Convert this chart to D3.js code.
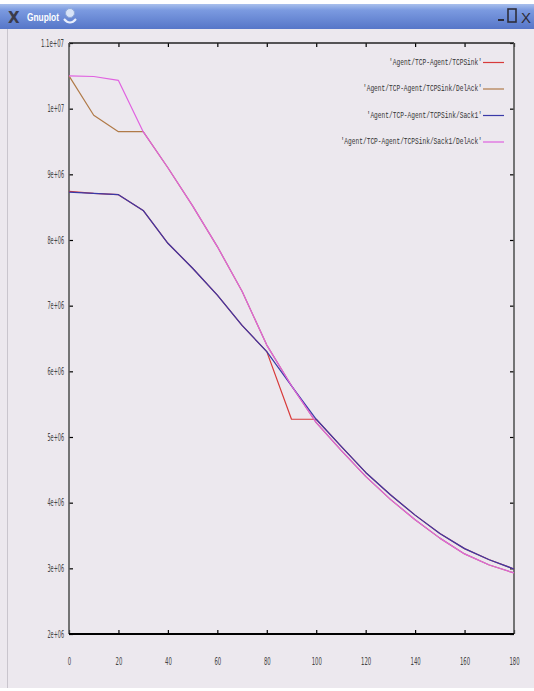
<!DOCTYPE html>
<html>
<head>
<meta charset="utf-8">
<script src="https://cdn.jsdelivr.net/npm/d3@7/dist/d3.min.js"></script>
<style>
  html, body { margin: 0; padding: 0; background: #ffffff; }
  svg { display: block; }
</style>
</head>
<body>
<svg id="win" width="534" height="691"></svg>
<script>
// Simulation time (s) at which each sample was taken
const times = [0, 10, 20, 30, 40, 50, 60, 70, 80, 90, 100, 110, 120, 130, 140, 150, 160, 170, 180];

// Throughput for each sink type
const tcpSink      = [8.74e6, 8.71e6, 8.69e6, 8.45e6, 7.95e6, 7.57e6, 7.16e6, 6.70e6, 6.30e6, 5.27e6, 5.27e6, 4.86e6, 4.46e6, 4.12e6, 3.81e6, 3.53e6, 3.30e6, 3.13e6, 2.99e6];
const tcpDelAck    = [1.05e7, 9.90e6, 9.65e6, 9.65e6, 9.10e6, 8.52e6, 7.90e6, 7.22e6, 6.40e6, 5.78e6, 5.22e6, 4.80e6, 4.40e6, 4.05e6, 3.74e6, 3.46e6, 3.22e6, 3.05e6, 2.93e6];
const sack1        = [8.73e6, 8.71e6, 8.69e6, 8.45e6, 7.95e6, 7.57e6, 7.16e6, 6.70e6, 6.30e6, 5.78e6, 5.27e6, 4.86e6, 4.46e6, 4.12e6, 3.81e6, 3.53e6, 3.30e6, 3.13e6, 2.99e6];
const sack1DelAck  = [1.05e7, 1.049e7, 1.043e7, 9.65e6, 9.10e6, 8.52e6, 7.90e6, 7.22e6, 6.40e6, 5.78e6, 5.22e6, 4.80e6, 4.40e6, 4.05e6, 3.74e6, 3.46e6, 3.22e6, 3.05e6, 2.93e6];

const seriesNames  = ["'Agent/TCP-Agent/TCPSink'", "'Agent/TCP-Agent/TCPSink/DelAck'", "'Agent/TCP-Agent/TCPSink/Sack1'", "'Agent/TCP-Agent/TCPSink/Sack1/DelAck'"];
const seriesColors = ["#d83a3a", "#b07a48", "#3a3aa8", "#e062e0"];

const xTicks      = [0, 20, 40, 60, 80, 100, 120, 140, 160, 180];
const yTicks      = [2e6, 3e6, 4e6, 5e6, 6e6, 7e6, 8e6, 9e6, 1e7, 1.1e7];
const yTickLabels = ["2e+06", "3e+06", "4e+06", "5e+06", "6e+06", "7e+06", "8e+06", "9e+06", "1e+07", "1.1e+07"];

const svg = d3.select("#win");
const W = 534, H = 691;

// ---- window chrome ----
const defs = svg.append("defs");
const grad = defs.append("linearGradient").attr("id", "titleGrad").attr("x1", 0).attr("y1", 0).attr("x2", 0).attr("y2", 1);
grad.append("stop").attr("offset", "0%").attr("stop-color", "#a9c0ec");
grad.append("stop").attr("offset", "25%").attr("stop-color", "#7b9ae0");
grad.append("stop").attr("offset", "100%").attr("stop-color", "#5676c8");

svg.append("rect").attr("x", 0).attr("y", 0).attr("width", W).attr("height", H).attr("fill", "#ffffff");
svg.append("rect").attr("x", 0).attr("y", 29).attr("width", W).attr("height", 659).attr("fill", "#ece8ee");
svg.append("line").attr("x1", 7.5).attr("x2", 7.5).attr("y1", 29).attr("y2", 688).attr("stroke", "#c9c5cd").attr("stroke-width", 1);

svg.append("rect").attr("x", 0).attr("y", 4).attr("width", W).attr("height", 25).attr("fill", "url(#titleGrad)");
svg.append("text").attr("x", 8).attr("y", 23).attr("font-family", "DejaVu Sans").attr("font-weight", "bold")
  .attr("font-size", 15).attr("fill", "#3b3b4a").text("X");
svg.append("text").attr("x", 27).attr("y", 21).attr("font-family", "Liberation Sans").attr("font-weight", "bold")
  .attr("font-size", 11).attr("fill", "#ffffff")
  .attr("textLength", 32).attr("lengthAdjust", "spacingAndGlyphs").text("Gnuplot");
svg.append("circle").attr("cx", 70).attr("cy", 13).attr("r", 4.5).attr("fill", "#d8e4f8").attr("stroke", "#8fa8d8");
svg.append("path").attr("d", "M64,19 Q70,26 76,19").attr("fill", "none").attr("stroke", "#e8eefc").attr("stroke-width", 2);

// window buttons
svg.append("rect").attr("x", 498).attr("y", 19).attr("width", 6).attr("height", 2).attr("fill", "#2d2d3a");
svg.append("rect").attr("x", 508).attr("y", 9).attr("width", 8).attr("height", 13).attr("fill", "none").attr("stroke", "#2d2d3a").attr("stroke-width", 1.6);
svg.append("text").attr("x", 521).attr("y", 23).attr("font-family", "Liberation Sans").attr("font-size", 15).attr("fill", "#2d2d3a").text("X");

// ---- plot ----
const x = d3.scaleLinear().domain([0, 180]).range([69, 514]);
const y = d3.scaleLinear().domain([2e6, 1.1e7]).range([634, 43]);

const tickFont = "DejaVu Sans Condensed, DejaVu Sans";

// bottom axis (ticks point inward)
const gx = svg.append("g").attr("transform", `translate(0,${y.range()[0]})`)
  .call(d3.axisBottom(x).tickValues(xTicks).tickSize(-4).tickFormat(d3.format("d")));
gx.select(".domain").remove();
gx.selectAll(".tick line").attr("stroke", "#000").attr("stroke-width", 1.2);
gx.selectAll(".tick text").attr("y", 27).attr("dy", "0.35em")
  .attr("font-family", tickFont).attr("font-size", 10).attr("fill", "#444")
  .each(function(d) { d3.select(this).attr("textLength", String(d).length * 3.4).attr("lengthAdjust", "spacingAndGlyphs"); });

// top mirror ticks
const gxt = svg.append("g").attr("transform", `translate(0,${y.range()[1]})`)
  .call(d3.axisTop(x).tickValues(xTicks).tickSize(-4).tickFormat(""));
gxt.select(".domain").remove();
gxt.selectAll(".tick line").attr("stroke", "#000").attr("stroke-width", 1.2);

// left axis
const gy = svg.append("g").attr("transform", `translate(${x.range()[0]},0)`)
  .call(d3.axisLeft(y).tickValues(yTicks).tickSize(-4).tickPadding(5)
    .tickFormat((d, i) => yTickLabels[i]));
gy.select(".domain").remove();
gy.selectAll(".tick line").attr("stroke", "#000").attr("stroke-width", 1.2);
gy.selectAll(".tick text").attr("font-family", tickFont).attr("font-size", 10).attr("fill", "#444")
  .each(function(d, i) { d3.select(this).attr("textLength", yTickLabels[i].length * 3.3).attr("lengthAdjust", "spacingAndGlyphs"); });

// right mirror ticks
const gyr = svg.append("g").attr("transform", `translate(${x.range()[1]},0)`)
  .call(d3.axisRight(y).tickValues(yTicks).tickSize(-4).tickFormat(""));
gyr.select(".domain").remove();
gyr.selectAll(".tick line").attr("stroke", "#000").attr("stroke-width", 1.2);

// frame
const [x0, x1] = x.range(), [y0, y1] = y.range();
svg.append("line").attr("x1", x0).attr("x2", x1).attr("y1", y1).attr("y2", y1).attr("stroke", "#222").attr("stroke-width", 1.4);
svg.append("line").attr("x1", x0).attr("x2", x0).attr("y1", y1).attr("y2", y0).attr("stroke", "#555").attr("stroke-width", 1.6);
svg.append("line").attr("x1", x1).attr("x2", x1).attr("y1", y1).attr("y2", y0).attr("stroke", "#555").attr("stroke-width", 1.6);
svg.append("line").attr("x1", x0).attr("x2", x1).attr("y1", y0).attr("y2", y0).attr("stroke", "#000").attr("stroke-width", 2);

// series, drawn in plot order so later ones sit on top
const allSeries = [tcpSink, tcpDelAck, sack1, sack1DelAck];
const line = d3.line().x((d, i) => x(times[i])).y(d => y(d));
allSeries.forEach((vals, k) => {
  svg.append("path").datum(vals).attr("d", line)
    .attr("fill", "none").attr("stroke", seriesColors[k]).attr("stroke-width", 1.2)
    .attr("stroke-linejoin", "round");
});

// legend
const legendTop = 62, legendStep = 26.5;
seriesNames.forEach((name, k) => {
  const ly = legendTop + k * legendStep;
  svg.append("text").attr("x", 482).attr("y", ly).attr("dy", "0.32em").attr("text-anchor", "end")
    .attr("font-family", "Liberation Mono, DejaVu Sans Mono").attr("font-size", 8.5).attr("fill", "#333")
    .attr("textLength", name.length * 3.72).attr("lengthAdjust", "spacingAndGlyphs")
    .text(name);
  svg.append("line").attr("x1", 483).attr("x2", 504).attr("y1", ly + 0.5).attr("y2", ly + 0.5)
    .attr("stroke", seriesColors[k]).attr("stroke-width", 1.2);
});
</script>
</body>
</html>
